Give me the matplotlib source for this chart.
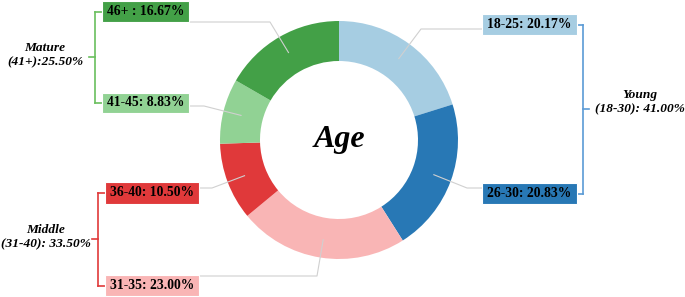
import numpy as np
import matplotlib.pyplot as plt
from matplotlib.patches import Rectangle

# age groups, clockwise from 12 o'clock
labels = ['18-25', '26-30', '31-35', '36-40', '41-45', '46+']
shares = [20.17, 20.83, 23.00, 10.50, 8.83, 16.67]
colors = ['#a6cde2', '#2878b5', '#f9b5b5', '#e0393a', '#91d294', '#43a047']
box_texts = ['18-25: 20.17%', '26-30: 20.83%', '31-35: 23.00%',
             '36-40: 10.50%', '41-45: 8.83%', '46+ : 16.67%']

groups = ['Young\n(18-30): 41.00%', 'Middle\n(31-40): 33.50%', 'Mature\n(41+):25.50%']
group_members = [[0, 1], [2, 3], [4, 5]]
group_colors = ['#5b9bd5', '#e0393a', '#6abf5e']

W, H = 685, 297
plt.rcParams['font.family'] = ['Liberation Serif', 'DejaVu Serif']

fig = plt.figure(figsize=(W / 100, H / 100), dpi=100)
ax = fig.add_axes([0, 0, 1, 1])


def Y(y):
    return H - y


cx, cy, R = 339, Y(140), 119
wedges, _ = ax.pie(shares, colors=colors, startangle=90, counterclock=False,
                   center=(cx, cy), radius=R, frame=True,
                   wedgeprops=dict(width=40, linewidth=0))
ax.set_xlim(0, W)
ax.set_ylim(0, H)
ax.set_aspect('equal')
ax.axis('off')

ax.text(cx, cy, 'Age', ha='center', va='center', fontsize=23,
        fontweight='bold', fontstyle='italic')

# label boxes: (x0, y_top, width, height) in pixels
boxes = [(482, 14, 95, 21), (482, 183, 95, 21), (105, 275, 94, 21),
         (105, 182, 94, 22), (102, 93, 87, 20), (102, 1, 87, 21)]
# leader elbow points
elbows = [(421, 29), (467, 188), (317, 276), (212, 188), (204, 106), (270, 22)]

for i, w in enumerate(wedges):
    x0, yt, bw, bh = boxes[i]
    ax.add_patch(Rectangle((x0, Y(yt + bh)), bw, bh, facecolor=colors[i],
                           edgecolor='white', linewidth=0.8, zorder=3))
    ax.text(x0 + bw / 2, Y(yt + bh / 2), box_texts[i], ha='center', va='center',
            fontsize=9.8, fontweight='bold', zorder=4)
    mid = np.deg2rad((w.theta1 + w.theta2) / 2)
    sx, sy = cx + 101 * np.cos(mid), cy + 101 * np.sin(mid)
    ex, ey = elbows[i]
    bx = x0 if x0 > cx else x0 + bw
    ax.plot([sx, ex, bx], [sy, Y(ey), Y(ey)], color='#d0d0d0', lw=0.8, zorder=2)

# brackets: (x of spine, tick direction, text x, text y shift)
brackets = [(583, 1, 640, 7), (98, -1, 46, 2), (95, -1, 45, 2)]
for g, (bx, d, tx, dy) in enumerate(brackets):
    ys = []
    for i in group_members[g]:
        x0, yt, bw, bh = boxes[i]
        yc = Y(yt + bh / 2)
        ys.append(yc)
        edge = x0 + bw if d > 0 else x0
        ax.plot([edge, bx], [yc, yc], color=group_colors[g], lw=1.2)
    ax.plot([bx, bx], [min(ys), max(ys)], color=group_colors[g], lw=1.2)
    ym = (ys[0] + ys[1]) / 2
    ax.plot([bx, bx + 6 * d], [ym, ym], color=group_colors[g], lw=1.2)
    ax.text(tx, ym + dy, groups[g], ha='center', va='center', fontsize=9.6,
            fontweight='bold', fontstyle='italic', linespacing=1.25)

fig.savefig('out.png', dpi=100)
